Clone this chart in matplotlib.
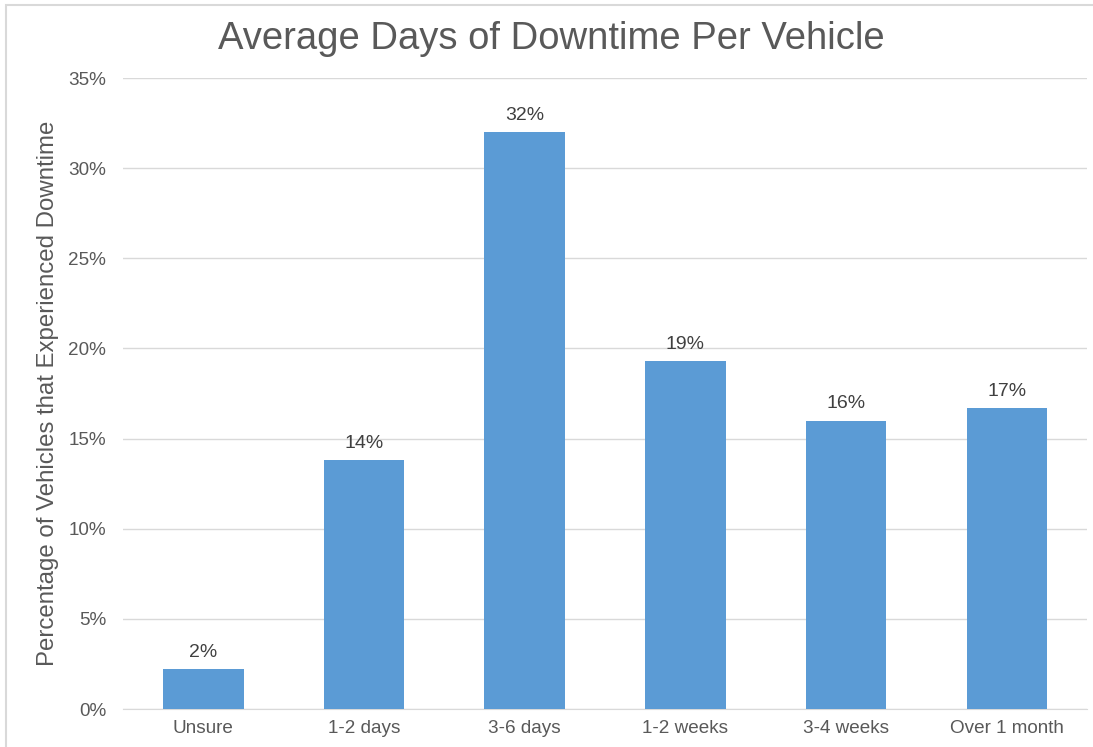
import matplotlib.pyplot as plt
from matplotlib.patches import Rectangle
from matplotlib.ticker import MultipleLocator, FuncFormatter

categories = ["Unsure", "1-2 days", "3-6 days", "1-2 weeks", "3-4 weeks", "Over 1 month"]
share_pct = [2.2, 13.8, 32.0, 19.3, 16.0, 16.7]

plt.rcParams['font.family'] = ['Liberation Sans', 'DejaVu Sans']
text_col = "#595959"

fig = plt.figure(figsize=(10.93, 7.47), dpi=100)
ax = fig.add_axes([123 / 1093, 1 - 709 / 747, (1087 - 123) / 1093, (709 - 78) / 747])

# light chart-area frame
fig.patches.append(Rectangle((6 / 1093, -0.1), 1.2, 1 - 5 / 747 + 0.1, transform=fig.transFigure,
                             fill=False, edgecolor="#d9d9d9", linewidth=1.5))

x = range(len(categories))
bars = ax.bar(x, share_pct, width=0.5, color="#5B9BD5", zorder=3)
for b, v in zip(bars, share_pct):
    ax.text(b.get_x() + b.get_width() / 2, v + 0.45, f"{v:.0f}%", ha="center", va="bottom",
            fontsize=14, color="#404040")

ax.set_xlim(-0.5, len(categories) - 0.5)
ax.set_ylim(0, 35)
ax.yaxis.set_major_locator(MultipleLocator(5))
ax.yaxis.set_major_formatter(FuncFormatter(lambda v, p: f"{v:.0f}%"))
ax.set_xticks(list(x))
ax.set_xticklabels(categories)
ax.grid(axis="y", color="#d9d9d9", linewidth=1, zorder=0)
for s in ["top", "right", "left"]:
    ax.spines[s].set_visible(False)
ax.spines["bottom"].set_color("#d9d9d9")
ax.tick_params(axis="both", length=0, labelsize=13.6, colors=text_col, pad=8)
ax.tick_params(axis="y", pad=12)

ax.set_ylabel("Percentage of Vehicles that Experienced Downtime", fontsize=17.3, color=text_col)
ax.yaxis.set_label_coords(-0.066, 0.5)
fig.text(551 / 1093, 1 - 39 / 747, "Average Days of Downtime Per Vehicle", ha="center", va="center",
         fontsize=27.5, color=text_col)

fig.savefig("out.png", dpi=100, facecolor="white")
